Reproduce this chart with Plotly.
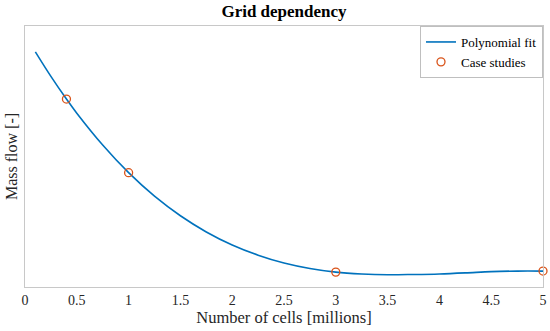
import plotly.graph_objects as go

# Polynomial fit curve (normalized mass flow)
fit_cells = [0.1, 0.25, 0.4, 0.5, 0.75, 1.0, 1.25, 1.5, 1.75, 2.0, 2.25, 2.5,
             2.75, 3.0, 3.25, 3.5, 3.75, 4.0, 4.25, 4.5, 4.75, 5.0]
fit_flow = [0.901, 0.807, 0.720, 0.666, 0.544, 0.438, 0.348, 0.273, 0.211, 0.161,
            0.122, 0.092, 0.071, 0.057, 0.050, 0.047, 0.048, 0.050, 0.054, 0.059,
            0.061, 0.061]

# Case studies
case_cells = [0.4, 1.0, 3.0, 5.0]
case_flow = [0.720, 0.438, 0.057, 0.061]

x_ticks = [0, 0.5, 1, 1.5, 2, 2.5, 3, 3.5, 4, 4.5, 5]
x_tick_labels = ["0", "0.5", "1", "1.5", "2", "2.5", "3", "3.5", "4", "4.5", "5"]

FONT = "Liberation Serif, DejaVu Serif, serif"

fig = go.Figure()
fig.add_trace(go.Scatter(
    x=fit_cells, y=fit_flow, mode="lines", name="Polynomial fit",
    line=dict(color="#0072BD", width=1.6, shape="spline", smoothing=1.0),
))
fig.add_trace(go.Scatter(
    x=case_cells, y=case_flow, mode="markers", name="Case studies",
    marker=dict(symbol="circle-open", size=8, color="#D95319",
                line=dict(width=1.3, color="#D95319")),
    cliponaxis=False,
))

fig.update_layout(
    width=550, height=331,
    margin=dict(l=25, r=7, t=26, b=44, autoexpand=False),
    paper_bgcolor="white", plot_bgcolor="white",
    font=dict(family=FONT, color="#262626", size=14),
    title=dict(text="<b>Grid dependency</b>", x=0.5, xref="paper", xanchor="center",
               y=1 - 11 / 331, yanchor="middle", yref="container", automargin=False,
               font=dict(family=FONT, size=17, color="#000000")),
    showlegend=True,
    legend=dict(x=1, y=1, xanchor="right", yanchor="top",
                bgcolor="white", bordercolor="#bfbfbf", borderwidth=1,
                font=dict(family=FONT, size=13, color="#000000"),
                tracegroupgap=0, itemwidth=30),
)
fig.update_xaxes(
    range=[0, 5], tickmode="array", tickvals=x_ticks, ticktext=x_tick_labels,
    showgrid=False, zeroline=False, showline=True, linecolor="#c8c8c8", linewidth=1,
    mirror=True, ticks="", automargin=False, tickfont=dict(size=14, color="#262626"),
    title=dict(text="Number of cells [millions]", font=dict(size=16.5, color="#262626"),
               standoff=4),
)
fig.update_yaxes(
    range=[0, 1], showticklabels=False, showgrid=False, zeroline=False,
    showline=True, linecolor="#c8c8c8", linewidth=1, mirror=True, ticks="",
    automargin=False,
    title=dict(text="Mass flow [-]", font=dict(size=16, color="#262626"), standoff=2),
)

fig.write_html(
    "out.html",
    config={"displayModeBar": False},
    post_script="document.documentElement.style.margin='0';"
                "document.body.style.margin='0';document.body.style.padding='0';",
)
